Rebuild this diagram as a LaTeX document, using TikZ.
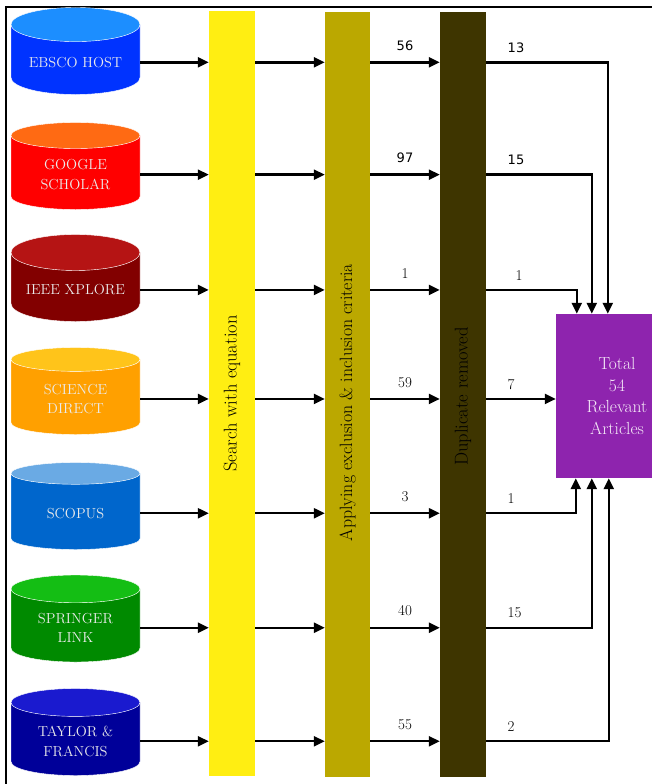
\documentclass[tikz,border=0pt]{standalone}
\usepackage{fontspec}
\newfontfamily\numsans{DejaVu Sans}
\usetikzlibrary{shapes.geometric,arrows.meta}
\definecolor{ebscoB}{HTML}{0033FF}\definecolor{ebscoT}{HTML}{1C8EFF}
\definecolor{googleB}{HTML}{FF0000}\definecolor{googleT}{HTML}{FF6A13}
\definecolor{ieeeB}{HTML}{820000}\definecolor{ieeeT}{HTML}{B51414}
\definecolor{sciB}{HTML}{FFA000}\definecolor{sciT}{HTML}{FFC41A}
\definecolor{scopusB}{HTML}{0066CC}\definecolor{scopusT}{HTML}{6AAAE4}
\definecolor{springerB}{HTML}{008A00}\definecolor{springerT}{HTML}{14BE14}
\definecolor{taylorB}{HTML}{000099}\definecolor{taylorT}{HTML}{1A1ACF}
\definecolor{searchcol}{HTML}{FFEE12}
\definecolor{criteriacol}{HTML}{BBA800}
\definecolor{dupcol}{HTML}{3E3500}
\definecolor{totcol}{HTML}{8E24AE}
\begin{document}
\begin{tikzpicture}[x=1pt,y=-1pt,
    db/.style={cylinder, shape border rotate=90, aspect=0.34, draw=white, thin,
      cylinder uses custom fill, minimum width=129pt, minimum height=87pt, anchor=shape center,
      text=white!92!black, align=center, font=\fontsize{14.5}{19.5}\selectfont},
    bar/.style={minimum width=46pt, minimum height=765pt, inner sep=0pt},
    barlabel/.style={rotate=90, font=\fontsize{18.5}{20}\selectfont},
    arr/.style={line width=2.4pt, -{Triangle[length=11pt,width=10pt]}},
    num/.style={above=7pt, font=\fontsize{15}{18}\selectfont},
    numsf/.style={above=7pt, font=\numsans\fontsize{13}{16}\selectfont},
    outnum/.style={anchor=south west, xshift=17pt, yshift=5pt, font=\fontsize{15}{18}\selectfont}]
    \useasboundingbox (0,0) rectangle (652,784);
    \clip (0,0) rectangle (652,784);
    \draw[line width=1.3pt] (6,800) |- (700,7);

    % databases
    \node[db, cylinder end fill=ebscoT, cylinder body fill=ebscoB] (ebsco) at (75.5,51) {EBSCO HOST};
    \node[db, cylinder end fill=googleT, cylinder body fill=googleB] (google) at (75.5,166) {GOOGLE\\SCHOLAR};
    \node[db, cylinder end fill=ieeeT, cylinder body fill=ieeeB] (ieee) at (75.5,278) {IEEE XPLORE};
    \node[db, cylinder end fill=sciT, cylinder body fill=sciB] (sci) at (75.5,391) {SCIENCE\\DIRECT};
    \node[db, cylinder end fill=scopusT, cylinder body fill=scopusB] (scopus) at (75.5,506) {SCOPUS};
    \node[db, cylinder end fill=springerT, cylinder body fill=springerB] (springer) at (75.5,618.5) {SPRINGER\\LINK};
    \node[db, cylinder end fill=taylorT, cylinder body fill=taylorB] (taylor) at (75.5,732) {TAYLOR \&\\FRANCIS};

    % stages
    \node[bar, fill=searchcol, label={[barlabel]center:Search with equation}] (search) at (232,393.5) {};
    \node[bar, fill=criteriacol, minimum width=45pt,
      label={[yshift=-8pt, barlabel, font=\fontsize{17.8}{20}\selectfont]center:Applying exclusion \& inclusion criteria}] (criteria) at (347.5,394.5) {};
    \node[bar, fill=dupcol, label={[yshift=-2pt, barlabel]center:Duplicate removed}] (dup) at (463,394.5) {};
    \node[fill=totcol, minimum width=122pt, minimum height=164pt, align=center,
      text=white!90!totcol, font=\fontsize{17.5}{21.5}\selectfont] (tot) at (617,396) {Total\\54\\Relevant\\Articles};

    \path (ebsco.east) edge[arr] (search.west |- ebsco.east);
    \path (google.east) edge[arr] (search.west |- google.east);
    \path (ieee.east) edge[arr] (search.west |- ieee.east);
    \path (sci.east) edge[arr] (search.west |- sci.east);
    \path (scopus.east) edge[arr] (search.west |- scopus.east);
    \path (springer.east) edge[arr] (search.west |- springer.east);
    \path (taylor.east) edge[arr] (search.west |- taylor.east);

    \path (search.east |- ebsco.east) edge[arr] (criteria.west |- ebsco.east);
    \path (search.east |- google.east) edge[arr] (criteria.west |- google.east);
    \path (search.east |- ieee.east) edge[arr] (criteria.west |- ieee.east);
    \path (search.east |- sci.east) edge[arr] (criteria.west |- sci.east);
    \path (search.east |- scopus.east) edge[arr] (criteria.west |- scopus.east);
    \path (search.east |- springer.east) edge[arr] (criteria.west |- springer.east);
    \path (search.east |- taylor.east) edge[arr] (criteria.west |- taylor.east);

    \path (criteria.east |- ebsco.east) edge[arr] node[numsf] {56} (dup.west |- ebsco.east);
    \path (criteria.east |- google.east) edge[arr] node[numsf] {97} (dup.west |- google.east);
    \path (criteria.east |- ieee.east) edge[arr] node[num] {1} (dup.west |- ieee.east);
    \path (criteria.east |- sci.east) edge[arr] node[num] {59} (dup.west |- sci.east);
    \path (criteria.east |- scopus.east) edge[arr] node[num] {3} (dup.west |- scopus.east);
    \path (criteria.east |- springer.east) edge[arr] node[num] {40} (dup.west |- springer.east);
    \path (criteria.east |- taylor.east) edge[arr] node[num] {55} (dup.west |- taylor.east);

    \draw[arr] (dup.east |- ebsco.east) node[outnum, font=\numsans\fontsize{13}{16}\selectfont] {13} -| ([xshift=52pt]tot.north west);
    \draw[arr] (dup.east |- google.east) node[outnum, font=\numsans\fontsize{13}{16}\selectfont] {15} -| ([xshift=36pt]tot.north west);
    \draw[arr] (dup.east |- ieee.east) node[outnum, xshift=8pt] {1} -| ([xshift=21pt]tot.north west);
    \path (dup.east |- sci.east) edge[arr] node[outnum, at start] {7} (tot.west |- sci.east);
    \draw[arr] (dup.east |- scopus.east) node[outnum] {1} -| ([xshift=20pt]tot.south west);
    \draw[arr] (dup.east |- springer.east) node[outnum] {15} -| ([xshift=36pt]tot.south west);
    \draw[arr] (dup.east |- taylor.east) node[outnum] {2} -| ([xshift=53pt]tot.south west);
\end{tikzpicture}
\end{document}
